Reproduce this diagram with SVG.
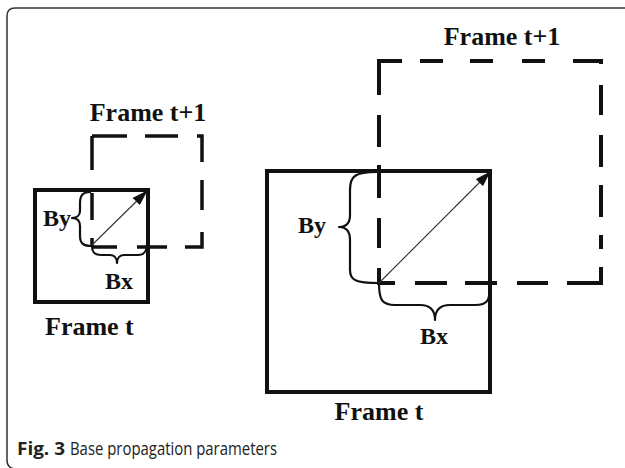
<svg xmlns="http://www.w3.org/2000/svg" width="625" height="468" viewBox="0 0 625 468">
  <style>
    .solid { fill: none; stroke: #111; stroke-width: 4; }
    .dash { fill: none; stroke: #111; stroke-width: 4; stroke-linecap: butt; }
    .dashs { fill: none; stroke: #111; stroke-width: 3.5; stroke-linecap: butt; }
    .brace { fill: none; stroke: #111; stroke-width: 2.2; stroke-linejoin: round; }
    .arrow { fill: none; stroke: #333; stroke-width: 1.1; }
    .lbl { font-family: "Liberation Serif", "Times New Roman", serif; font-weight: bold; fill: #111; }
    .big { font-size: 26px; }
    .bxy { font-size: 24px; }
    .cap { font-family: "Open Sans", "Noto Sans", sans-serif; font-size: 18px; fill: #222; }
  </style>
  <defs>
    <marker id="ah" viewBox="0 0 16 10" refX="15" refY="5" markerWidth="16" markerHeight="10" markerUnits="userSpaceOnUse" orient="auto">
      <path d="M0,0 L16,5 L0,10 Z" fill="#111"/>
    </marker>
  </defs>

  <rect width="625" height="468" fill="#fff"/>
  <path id="outer-frame" d="M626,8 L15,8 Q7,8 7,16 L7,460 Q7,468 15,469" fill="none" stroke="#333" stroke-width="1.5"/>

  <!-- Small example -->
  <g id="small-frame-t">
    <rect class="solid" x="35" y="190" width="113" height="112"/>
    <text class="lbl big" x="45" y="335">Frame t</text>
  </g>
  <g id="small-frame-t1">
    <path class="dashs" d="M92,136 H127 M145,136 H178 M197,136 H202 V162
      M92,136 V170 M92,193 V220 M92,238 V247
      M202,180 V210 M202,232 V247 H185
      M92,247 H117 M137,247 H167"/>
    <text class="lbl big" x="148" y="121" text-anchor="middle">Frame t+1</text>
  </g>

  <!-- Large example -->
  <g id="large-frame-t">
    <rect class="solid" x="267" y="171" width="223" height="221"/>
    <text class="lbl big" x="379" y="420" text-anchor="middle">Frame t</text>
  </g>
  <g id="large-frame-t1">
    <path class="dash" d="M402,61 H379 V95 M420,61 H443 M470,61 H493 M522,61 H545 M573,61 H601 V64
      M379,115 V147 M379,165 V198 M379,218 V248 M379,268 V283 H395
      M415,283 H447 M465,283 H497 M517,283 H548 M567,283 H601 V267
      M601,85 V115 M601,135 V167 M601,185 V217 M601,235 V249"/>
    <text class="lbl big" x="502" y="45" text-anchor="middle">Frame t+1</text>
  </g>

  <g id="connectors">
    <line class="arrow" x1="92" y1="245" x2="147" y2="191" marker-end="url(#ah)"/>
    <line class="arrow" x1="379" y1="283" x2="490" y2="172" marker-end="url(#ah)"/>
  </g>

  <g id="braces">
    <path class="brace" d="M91,192 C83,192 80,195 80,203 L80,211 C80,215 77,218 72,218 C77,218 80,221 80,226 L80,236 C80,244 84,246 92,246"/>
    <path class="brace" d="M92,246 C92,253 95,255 101,255 L110,255 C114,255 117,258 117,263 C117,258 120,255 124,255 L138,255 C144,255 147,252 147,243"/>
    <path class="brace" d="M377,172 C355,172 350,176 350,190 L350,215 C350,223 346,227 339,227 C346,227 350,231 350,240 L350,270 C350,280 355,283 379,283"/>
    <path class="brace" d="M379,283 C379,300 382,305 395,305 L420,305 C430,305 435,310 435,320 C435,310 440,305 450,305 L475,305 C488,305 490,300 490,285"/>
    <text class="lbl bxy" x="43" y="226">By</text>
    <text class="lbl bxy" x="105" y="289">Bx</text>
    <text class="lbl bxy" x="298" y="233">By</text>
    <text class="lbl bxy" x="420" y="344">Bx</text>
  </g>

  <g id="caption">
    <text class="cap" x="17" y="455" font-weight="bold" textLength="48" lengthAdjust="spacingAndGlyphs">Fig. 3</text>
    <text class="cap" x="70" y="455" textLength="207" lengthAdjust="spacingAndGlyphs">Base propagation parameters</text>
  </g>
</svg>
